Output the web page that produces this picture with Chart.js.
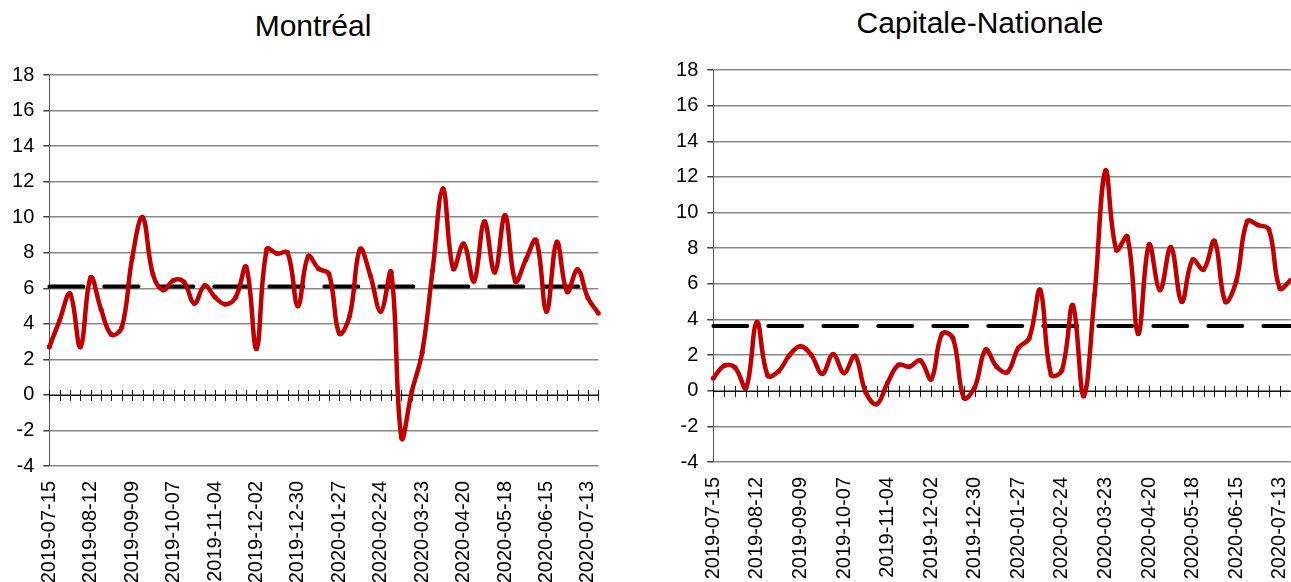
<!DOCTYPE html>
<html>
<head>
<meta charset="utf-8">
<script src="https://cdn.jsdelivr.net/npm/chart.js@4.4.1/dist/chart.umd.min.js"></script>
<style>
  html, body { margin: 0; padding: 0; background: #fff; overflow: hidden; width: 1291px; height: 582px; }
  .panel { position: absolute; top: 0; }
  .title {
    position: absolute; width: 400px; text-align: center;
    font: 30px/36px "Liberation Sans", Arial, sans-serif; color: #000;
  }
</style>
</head>
<body>
<div class="title" style="left:113px; top:8px">Montréal</div>
<div class="title" style="left:780px; top:5px">Capitale-Nationale</div>
<div class="panel" style="left:0px"><canvas id="montreal" width="626" height="600"></canvas></div>
<div class="panel" style="left:660px"><canvas id="capitale" width="640" height="600"></canvas></div>
<script>
// weekly categories (a label is shown every 4 weeks)
const weeks = [
  "2019-07-15", "2019-07-22", "2019-07-29", "2019-08-05", "2019-08-12", "2019-08-19", "2019-08-26",
  "2019-09-02", "2019-09-09", "2019-09-16", "2019-09-23", "2019-09-30", "2019-10-07", "2019-10-14",
  "2019-10-21", "2019-10-28", "2019-11-04", "2019-11-11", "2019-11-18", "2019-11-25", "2019-12-02",
  "2019-12-09", "2019-12-16", "2019-12-23", "2019-12-30", "2020-01-06", "2020-01-13", "2020-01-20",
  "2020-01-27", "2020-02-03", "2020-02-10", "2020-02-17", "2020-02-24", "2020-03-02", "2020-03-09",
  "2020-03-16", "2020-03-23", "2020-03-30", "2020-04-06", "2020-04-13", "2020-04-20", "2020-04-27",
  "2020-05-04", "2020-05-11", "2020-05-18", "2020-05-25", "2020-06-01", "2020-06-08", "2020-06-15",
  "2020-06-22", "2020-06-29", "2020-07-06", "2020-07-13", "2020-07-20"
];

const montrealValues = [
  2.7, 4.2, 5.7, 2.7, 6.6, 4.8, 3.4, 3.8, 7.7, 10.0,
  6.8, 5.9, 6.45, 6.35, 5.15, 6.15, 5.5, 5.1, 5.5, 7.2,
  2.6, 8.2, 7.95, 8.0, 5.0, 7.8, 7.1, 6.8, 3.45, 4.45,
  8.2, 6.7, 4.7, 6.9, -2.4, 0.2, 2.4, 7.0, 11.6, 7.1,
  8.5, 6.4, 9.75, 6.9, 10.1, 6.4, 7.6, 8.7, 4.7, 8.6,
  5.8, 7.05, 5.45, 4.6
];

const capitaleValues = [
  0.7, 1.4, 1.3, 0.15, 3.85, 0.85, 1.1, 2.0, 2.5, 2.0,
  0.95, 2.05, 1.0, 1.95, -0.1, -0.75, 0.45, 1.45, 1.35, 1.7,
  0.65, 3.2, 2.95, -0.4, 0.2, 2.3, 1.35, 1.05, 2.4, 2.95,
  5.65, 0.9, 1.15, 4.8, -0.3, 5.4, 12.35, 7.9, 8.65, 3.2,
  8.2, 5.65, 8.05, 5.0, 7.35, 6.8, 8.4, 5.0, 6.15, 9.5,
  9.3, 9.05, 5.75, 6.2
];

// average of each region (dashed line)
const montrealAverage = 6.1;
const capitaleAverage = 3.63;

const yMin = -4;
const yMax = 18;
const yStep = 2;

Chart.defaults.font.family = '"Liberation Sans", Arial, sans-serif';
Chart.defaults.color = "#000";

// x axis that crosses at 0 with a tick mark for every week
const zeroAxis = {
  id: "zeroAxis",
  beforeDatasetsDraw(chart) {
    const ctx = chart.ctx;
    const x = chart.scales.x;
    const y = chart.scales.y;
    const y0 = Math.round(y.getPixelForValue(0)) + 0.5;
    ctx.save();
    ctx.strokeStyle = "#111";
    ctx.lineWidth = 1;
    ctx.beginPath();
    ctx.moveTo(x.left, y0);
    ctx.lineTo(x.right, y0);
    chart.data.labels.forEach((lbl, i) => {
      const px = Math.round(x.getPixelForValue(i)) + 0.5;
      ctx.moveTo(px, y0 - 5.5);
      ctx.lineTo(px, y0 + 5.5);
    });
    ctx.stroke();
    ctx.restore();
  }
};

function makeChart(id, values, average, g) {
  const ctx = document.getElementById(id).getContext("2d");
  return new Chart(ctx, {
    type: "line",
    data: {
      labels: weeks,
      datasets: [
        {
          data: values,
          borderColor: "#C00000",
          backgroundColor: "#C00000",
          borderWidth: 4.5,
          tension: 0.4,
          pointRadius: 2.5,
          pointBorderWidth: 0,
          order: 1
        },
        {
          data: weeks.map(() => average),
          borderColor: "#000",
          borderWidth: 4,
          borderDash: [34, 21],
          borderCapStyle: "round",
          pointRadius: 0,
          order: 2
        }
      ]
    },
    options: {
      responsive: false,
      animation: false,
      devicePixelRatio: 1,
      events: [],
      layout: { padding: { left: 0, right: g.padRight, top: g.padTop, bottom: 0 } },
      plugins: {
        legend: { display: false },
        tooltip: { enabled: false },
        title: { display: false }
      },
      scales: {
        x: {
          grid: { display: false },
          border: { display: false },
          ticks: {
            autoSkip: false,
            minRotation: 90,
            maxRotation: 90,
            padding: 7,
            font: { size: 20 },
            callback: (v, i) => (i % 4 === 0 ? weeks[i] : "")
          },
          afterFit: (s) => {
            s.height = g.xHeight;
            s.paddingLeft = 0;
            s.paddingRight = 0;
          }
        },
        y: {
          min: yMin,
          max: yMax,
          ticks: { stepSize: yStep, padding: 9, font: { size: 20 } },
          grid: { color: "#888", lineWidth: 1.5, tickLength: 6, tickColor: "#404040" },
          border: { color: "#555", width: 1 },
          afterFit: (s) => {
            s.width = g.yWidth;
          }
        }
      }
    },
    plugins: [zeroAxis]
  });
}

makeChart("montreal", montrealValues, montrealAverage, {
  yWidth: 49.3, padRight: 27.7, padTop: 75, xHeight: 134
});
makeChart("capitale", capitaleValues, capitaleAverage, {
  yWidth: 53.3, padRight: 9.3, padTop: 70, xHeight: 138
});
</script>
</body>
</html>
